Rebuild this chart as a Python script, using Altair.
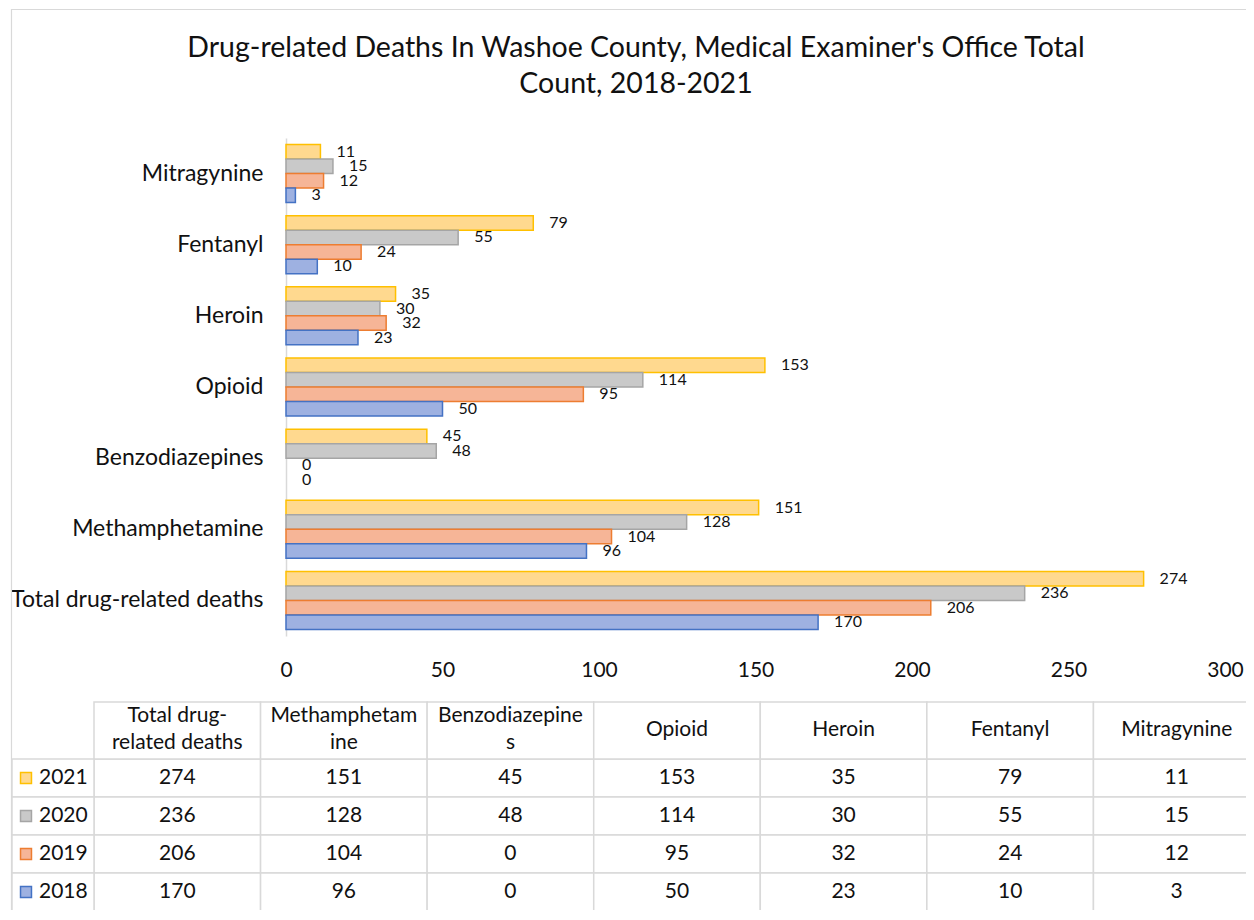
import altair as alt
import pandas as pd

# ---------------- data ----------------
categories = ["Total drug-related deaths", "Methamphetamine", "Benzodiazepines",
              "Opioid", "Heroin", "Fentanyl", "Mitragynine"]
header_labels = ["Total drug-\nrelated deaths", "Methamphetam\nine", "Benzodiazepine\ns",
                 "Opioid", "Heroin", "Fentanyl", "Mitragynine"]
years = ["2021", "2020", "2019", "2018"]
values_2021 = [274, 151, 45, 153, 35, 79, 11]
values_2020 = [236, 128, 48, 114, 30, 55, 15]
values_2019 = [206, 104, 0, 95, 32, 24, 12]
values_2018 = [170, 96, 0, 50, 23, 10, 3]
x_ticks = [0, 50, 100, 150, 200, 250, 300]
title_lines = ["Drug-related Deaths In Washoe County, Medical Examiner's Office Total",
               "Count, 2018-2021"]

fill_colors = ["#FFD98F", "#C9C9C9", "#F6B597", "#9EB1E1"]
stroke_colors = ["#FFC000", "#A5A5A5", "#ED7D31", "#4472C4"]

FONT = "Lato"
TXT = "#111111"
GRID = "#D9D9D9"

series = {"2021": values_2021, "2020": values_2020, "2019": values_2019, "2018": values_2018}
rows = []
for y in years:
    for c, h, v in zip(categories, header_labels, series[y]):
        rows.append({"drug": c, "header": h, "year": y, "value": v})
df = pd.DataFrame(rows)
hdr_df = pd.DataFrame({"drug": categories, "header": header_labels})
hdr_df["two"] = hdr_df["header"].str.contains("\n")
year_df = pd.DataFrame({"year": years})
title_df = pd.DataFrame({"t": ["\n".join(title_lines)]})
one_df = pd.DataFrame({"a": [0]})

bar_order = list(reversed(categories))

color_enc = alt.Color("year:N", scale=alt.Scale(domain=years, range=fill_colors), legend=None)
stroke_enc = alt.Stroke("year:N", scale=alt.Scale(domain=years, range=stroke_colors), legend=None)

# ---------------- bar chart ----------------
y_enc = alt.Y("drug:N", sort=bar_order,
              scale=alt.Scale(paddingInner=0.185, paddingOuter=0.0925),
              axis=alt.Axis(title=None, labelFontSize=23, labelFont=FONT, labelColor=TXT,
                            ticks=False, domainColor=GRID, domainWidth=1.5,
                            labelPadding=23, labelLimit=500))
yoff = alt.YOffset("year:N", sort=years, scale=alt.Scale(paddingInner=0, paddingOuter=0))
x_enc = alt.X("value:Q", scale=alt.Scale(domain=[0, 300], nice=False),
              axis=alt.Axis(title=None, values=x_ticks, grid=False, domain=False, ticks=False,
                            labelFlush=False, labelFontSize=21, labelPadding=23,
                            labelFont=FONT, labelColor=TXT))

bars = alt.Chart(df).mark_bar(strokeWidth=1.5).encode(
    x=x_enc, y=y_enc, yOffset=yoff, color=color_enc, stroke=stroke_enc,
    strokeOpacity=alt.condition(alt.datum.value == 0, alt.value(0), alt.value(1)))
bar_labels = alt.Chart(df).mark_text(align="left", baseline="middle", dx=16, fontSize=16,
                                     font=FONT, color=TXT).encode(
    x="value:Q", y=alt.Y("drug:N", sort=bar_order), yOffset=alt.YOffset("year:N", sort=years),
    text="value:Q")
bar_layer = alt.layer(bars, bar_labels)

# ---------------- data table ----------------
tx = alt.X("drug:N", sort=categories,
           scale=alt.Scale(range=[-192, 974], paddingInner=0, paddingOuter=0), axis=None)
ty = alt.Y("year:N", sort=years,
           scale=alt.Scale(range=[621, 773], paddingInner=0, paddingOuter=0), axis=None)

border = alt.Chart(one_df).mark_rect(fillOpacity=0, stroke=GRID, strokeWidth=1.2).encode(
    x=alt.value(-274.5), y=alt.value(-128.5), x2=alt.value(1200), y2=alt.value(900))
cells = alt.Chart(df).mark_rect(fill="white", stroke=GRID, strokeWidth=1.5).encode(x=tx, y=ty)
hdr_cells = alt.Chart(hdr_df).mark_rect(fill="white", stroke=GRID, strokeWidth=1.5).encode(
    x=tx, y=alt.value(564), y2=alt.value(621))
year_cells = alt.Chart(year_df).mark_rect(fill="white", stroke=GRID, strokeWidth=1.5).encode(
    x=alt.value(-274), x2=alt.value(-192), y=ty)
squares = alt.Chart(year_df).mark_square(size=120, strokeWidth=1.5, opacity=1).encode(
    x=alt.value(-260), y=ty, color=color_enc, stroke=stroke_enc)
year_text = alt.Chart(year_df).mark_text(align="left", baseline="middle", fontSize=21,
                                         font=FONT, color=TXT).encode(
    x=alt.value(-247), y=ty, text="year:N")
val_text = alt.Chart(df).mark_text(align="center", baseline="middle", fontSize=21,
                                   font=FONT, color=TXT).encode(x=tx, y=ty, text="value:Q")
hdr_text_two = alt.Chart(hdr_df).transform_filter(alt.datum.two).mark_text(
    align="center", baseline="middle", fontSize=21, lineBreak="\n", lineHeight=27,
    font=FONT, color=TXT).encode(x=tx, y=alt.value(578), text="header:N")
hdr_text_one = alt.Chart(hdr_df).transform_filter(~alt.datum.two).mark_text(
    align="center", baseline="middle", fontSize=21,
    font=FONT, color=TXT).encode(x=tx, y=alt.value(592), text="header:N")
title_text = alt.Chart(title_df).mark_text(align="center", baseline="alphabetic", fontSize=28.5,
                                           lineBreak="\n", lineHeight=36,
                                           font=FONT, color=TXT).encode(
    x=alt.value(350), y=alt.value(-81), text="t:N")

table_layer = alt.layer(border, cells, hdr_cells, year_cells, squares, year_text,
                        val_text, hdr_text_two, hdr_text_one, title_text)

chart = alt.layer(bar_layer, table_layer).resolve_scale(
    x="independent", y="independent"
).properties(
    width=939, height=498,
    autosize=alt.AutoSizeParams(type="none"),
    padding={"left": 278, "top": 130, "right": 21, "bottom": 274},
    background="white",
).configure_view(stroke=None)

chart.save("out.html", embed_options={"renderer": "svg", "actions": False})
